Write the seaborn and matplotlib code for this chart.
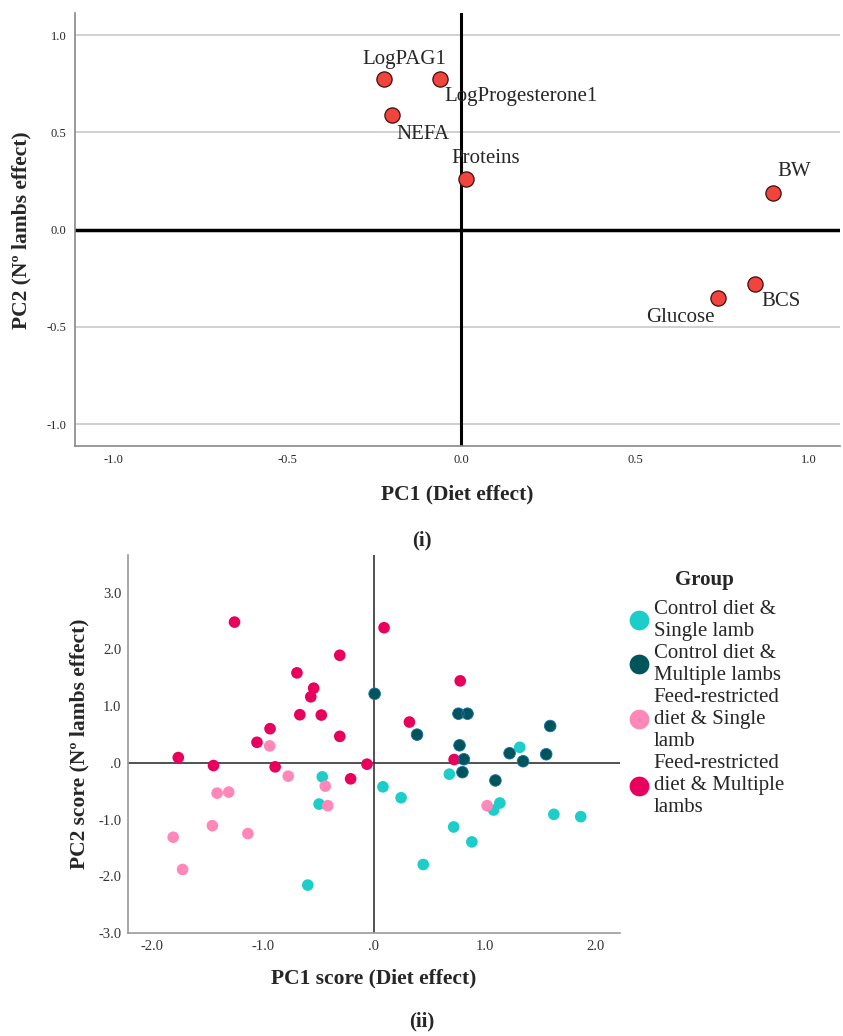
import numpy as np
import pandas as pd
import matplotlib
matplotlib.use('Agg')
import matplotlib.pyplot as plt
import seaborn as sns

# (i) loadings
variables = ['LogPAG1', 'LogProgesterone1', 'NEFA', 'Proteins', 'BW', 'BCS', 'Glucose']
pc1_load = [-0.221, -0.060, -0.198, 0.014, 0.897, 0.845, 0.737]
pc2_load = [0.776, 0.776, 0.588, 0.260, 0.190, -0.279, -0.352]

# (ii) scores by group
cs_x = [-0.466, -0.495, -0.597, 0.082, 0.246, 0.682, 1.318, 1.138, 1.082, 0.721, 0.885, 0.446, 1.626, 1.869]
cs_y = [-0.246, -0.726, -2.155, -0.422, -0.615, -0.199, 0.275, -0.708, -0.831, -1.130, -1.393, -1.792, -0.907, -0.948]
cm_x = [0.007, 0.390, 0.764, 0.846, 0.774, 0.813, 0.800, 1.098, 1.226, 1.348, 1.593, 1.557]
cm_y = [1.218, 0.498, 0.867, 0.867, 0.310, 0.064, -0.164, -0.310, 0.170, 0.029, 0.650, 0.152]
fs_x = [-0.941, -0.774, -1.416, -1.311, -0.439, -0.416, -1.459, -1.813, -1.138, -1.728, 1.023]
fs_y = [0.299, -0.234, -0.533, -0.515, -0.410, -0.755, -1.107, -1.311, -1.247, -1.879, -0.755]
fm_x = [-1.259, 0.092, -0.308, -0.695, -0.544, -0.570, 0.780, -0.669, -0.475, -0.938, 0.321,
        -0.308, -1.056, -1.767, -1.449, -0.892, -0.062, -0.210, 0.725]
fm_y = [2.482, 2.383, 1.897, 1.587, 1.317, 1.165, 1.446, 0.849, 0.843, 0.603, 0.720,
        0.468, 0.363, 0.094, -0.047, -0.070, -0.023, -0.281, 0.059]

groups = ['Control diet &\nSingle lamb', 'Control diet &\nMultiple lambs',
          'Feed-restricted\ndiet & Single\nlamb', 'Feed-restricted\ndiet & Multiple\nlambs']
colors = ['#1ccdca', '#00555a', '#ff88b8', '#e8005c']

sns.set_style('white')
plt.rcParams['font.family'] = ['Liberation Serif', 'DejaVu Serif']

fig = plt.figure(figsize=(8.43, 10.36), dpi=100)

# ---------- panel (i) ----------
ax1 = fig.add_axes([0.089, 0.5695, 0.908, 0.4175])
load_df = pd.DataFrame({'var': variables, 'PC1': pc1_load, 'PC2': pc2_load})
for yv in [-1.0, -0.5, 0.5, 1.0]:
    ax1.axhline(yv, color='#c8c8c8', lw=1.2, zorder=0)
ax1.axhline(0, color='black', lw=2.5, zorder=1)
ax1.axvline(0, color='black', lw=2.2, zorder=1)
sns.scatterplot(data=load_df, x='PC1', y='PC2', ax=ax1, color='#f0443c',
                edgecolor='#3a1010', linewidth=0.9, s=120, zorder=3, legend=False)

# label offsets in pixels (dx, dy, ha)
offsets = {'LogPAG1': (20, 19, 'center'), 'LogProgesterone1': (4, -18, 'left'),
           'NEFA': (4, -19, 'left'), 'Proteins': (-15, 21, 'left'),
           'BW': (4, 21, 'left'), 'BCS': (6, -18, 'left'), 'Glucose': (-3, -19, 'right')}
for v, px, py in zip(variables, pc1_load, pc2_load):
    dx, dy, ha = offsets[v]
    ax1.annotate(v, (px, py), xytext=(dx * 0.72, dy * 0.72), textcoords='offset points',
                 ha=ha, va='center', fontsize=15, zorder=4)

ax1.set_xlim(-1.11, 1.09)
ax1.set_ylim(-1.112, 1.112)
ax1.set_xticks([-1.0, -0.5, 0.0, 0.5, 1.0])
ax1.set_yticks([-1.0, -0.5, 0.0, 0.5, 1.0])
ax1.set_xticklabels(['-1.0', '-0.5', '0.0', '0.5', '1.0'])
ax1.set_yticklabels(['-1.0', '-0.5', '0.0', '0.5', '1.0'])
ax1.tick_params(axis='both', length=0, labelsize=9, pad=6)
for s in ['top', 'right']:
    ax1.spines[s].set_visible(False)
for s in ['left', 'bottom']:
    ax1.spines[s].set_color('#888888')
    ax1.spines[s].set_linewidth(1.2)
ax1.set_xlabel('PC1 (Diet effect)', fontsize=15.5, fontweight='bold', labelpad=13)
ax1.set_ylabel('PC2 (Nº lambs effect)', fontsize=15.5, fontweight='bold', labelpad=11)

fig.text(0.5, 0.478, '(i)', ha='center', va='center', fontsize=15, fontweight='bold')

# ---------- panel (ii) ----------
ax2 = fig.add_axes([0.152, 0.0994, 0.583, 0.3646])
score_df = pd.concat([
    pd.DataFrame({'PC1': cs_x, 'PC2': cs_y, 'Group': groups[0]}),
    pd.DataFrame({'PC1': cm_x, 'PC2': cm_y, 'Group': groups[1]}),
    pd.DataFrame({'PC1': fs_x, 'PC2': fs_y, 'Group': groups[2]}),
    pd.DataFrame({'PC1': fm_x, 'PC2': fm_y, 'Group': groups[3]}),
], ignore_index=True)
ax2.axhline(0, color='#333333', lw=1.2, zorder=1)
ax2.axvline(0, color='#333333', lw=1.2, zorder=1)
sns.scatterplot(data=score_df, x='PC1', y='PC2', hue='Group', hue_order=groups,
                palette=colors, s=70, linewidth=0, ax=ax2, zorder=3)
# bluish rim on the dark group
dark = score_df[score_df['Group'] == groups[1]]
ax2.scatter(dark['PC1'], dark['PC2'], s=70, facecolor='none', edgecolor='#1f6fb0',
            linewidth=0.6, zorder=4)

ax2.set_xlim(-2.22, 2.22)
ax2.set_ylim(-3.0, 3.66)
ax2.set_xticks([-2, -1, 0, 1, 2])
ax2.set_xticklabels(['-2.0', '-1.0', '.0', '1.0', '2.0'])
ax2.set_yticks([-3, -2, -1, 0, 1, 2, 3])
ax2.set_yticklabels(['-3.0', '-2.0', '-1.0', '.0', '1.0', '2.0', '3.0'])
ax2.tick_params(axis='both', length=0, labelsize=10.5, pad=5, colors='#333333')
for s in ['top', 'right']:
    ax2.spines[s].set_visible(False)
for s in ['left', 'bottom']:
    ax2.spines[s].set_color('#999999')
    ax2.spines[s].set_linewidth(1.2)
ax2.set_xlabel('PC1 score (Diet effect)', fontsize=15.5, fontweight='bold', labelpad=11)
ax2.set_ylabel('PC2 score (Nº lambs effect)', fontsize=15.5, fontweight='bold', labelpad=6)

handles, labels = ax2.get_legend_handles_labels()
leg = ax2.legend(handles, labels, title='Group', loc='upper left', bbox_to_anchor=(0.98, 1.0),
                 frameon=False, fontsize=15, title_fontsize=15, markerscale=1.7,
                 handletextpad=0.0, labelspacing=0.15, borderaxespad=0.3, handlelength=1.4)
leg.get_title().set_fontweight('bold')
leg._legend_box.sep = 7
for t in leg.get_texts():
    t.set_linespacing(1.22)
    t.set_multialignment('left')

fig.text(0.5, 0.014, '(ii)', ha='center', va='center', fontsize=15, fontweight='bold')

fig.savefig('out.png', dpi=100)
